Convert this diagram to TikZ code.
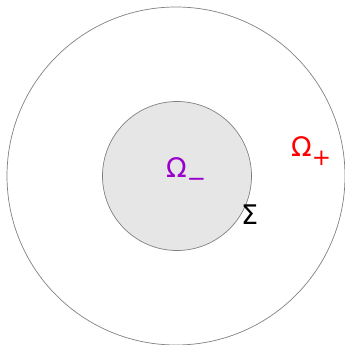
\documentclass[tikz,border=0pt]{standalone}
\usepackage{fontspec}
\setmainfont{DejaVu Sans}
\definecolor{omegapurple}{RGB}{153,0,204}
\definecolor{innerfill}{RGB}{230,230,230}
\definecolor{edgegray}{RGB}{128,128,128}
\newcommand{\mysub}[1]{\raisebox{-0.3em}{\fontsize{23}{24}\selectfont #1}}
\begin{document}
\begin{tikzpicture}[x=1pt,y=1pt,
  region/.style={draw=edgegray,line width=0.7pt},
  lbl/.style={inner sep=0pt,font=\fontsize{27}{30}\selectfont}]
\useasboundingbox (0,0) rectangle (345,345);
\node[region,circle,minimum size=338pt,inner sep=0pt] (outer) at (176,169) {};
\node[region,circle,fill=innerfill,minimum size=149pt,inner sep=0pt] (inner) at (177,169) {};
\node[lbl,text=omegapurple,anchor=base west] (om) at (166,167) {Ω\mysub{−}};
\node[lbl,text=red,anchor=base west] (op) at (291,188) {Ω\mysub{+}};
\node[lbl,text=black,anchor=base west] (sig) at (241,120) {Σ};
\end{tikzpicture}
\end{document}
